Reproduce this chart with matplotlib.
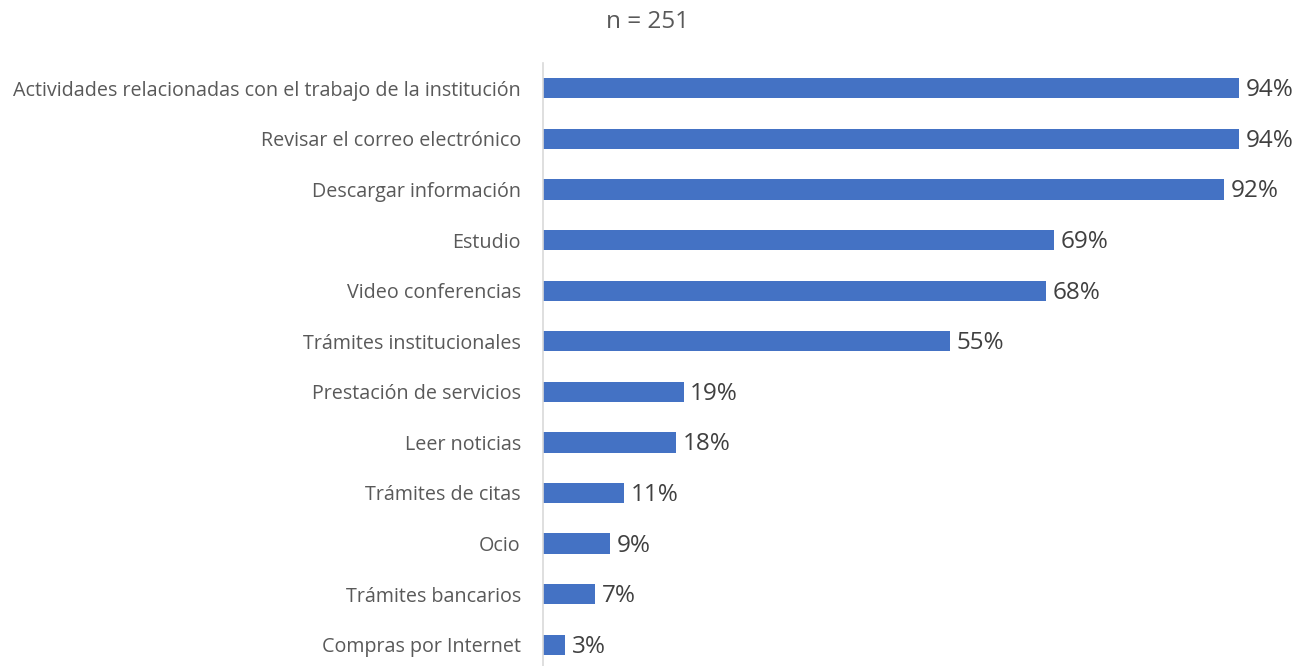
import matplotlib
matplotlib.use("Agg")
import matplotlib.pyplot as plt

# Data
categories = [
    "Actividades relacionadas con el trabajo de la institución",
    "Revisar el correo electrónico",
    "Descargar información",
    "Estudio",
    "Video conferencias",
    "Trámites institucionales",
    "Prestación de servicios",
    "Leer noticias",
    "Trámites de citas",
    "Ocio",
    "Trámites bancarios",
    "Compras por Internet",
]
values = [94, 94, 92, 69, 68, 55, 19, 18, 11, 9, 7, 3]
title_text = "n = 251"

plt.rcParams["font.family"] = ["Open Sans", "DejaVu Sans"]

fig = plt.figure(figsize=(12.99, 6.66), dpi=100)
ax = fig.add_axes([543 / 1299, 0, 740 / 1299, 1 - 63 / 666])

pos = list(range(len(categories)))
ax.barh(pos, values, height=0.4, color="#4472C4")

for y, v in zip(pos, values):
    ax.text(v + 0.9, y + 0.04, f"{v}%", va="center", ha="left",
            fontsize=17.5, color="#404040")

ax.set_xlim(0, 100)
ax.set_ylim(11.42, -0.5)
ax.set_yticks(pos)
ax.set_yticklabels(categories, fontsize=14.2, color="#595959")
ax.tick_params(axis="y", length=0, pad=16)
ax.set_xticks([])

for s in ["top", "right", "bottom"]:
    ax.spines[s].set_visible(False)
ax.spines["left"].set_color("#d9d9d9")
ax.spines["left"].set_linewidth(1.2)

fig.text(648 / 1299, 1 - 22 / 666, title_text, ha="center", va="center",
         fontsize=17.5, color="#595959")

fig.savefig("out.png", dpi=100)
